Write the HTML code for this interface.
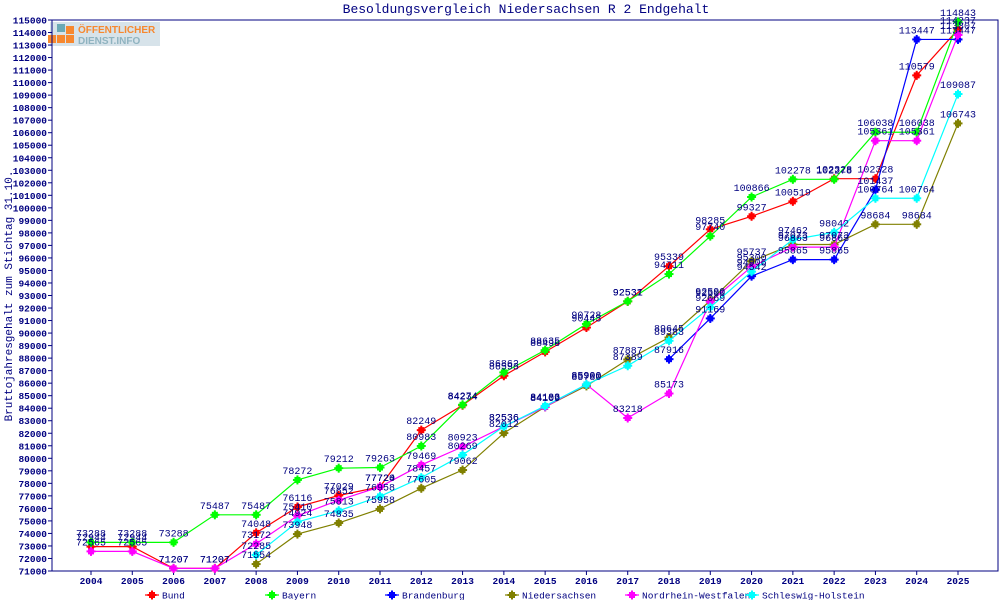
<!DOCTYPE html>
<html><head><meta charset="utf-8">
<style>
html,body{margin:0;padding:0;background:#fff;}
svg{display:block;font-family:"Liberation Mono","DejaVu Sans Mono",monospace;}
</style></head>
<body>
<svg id="chart" width="1000" height="600" viewBox="0 0 1000 600" xmlns="http://www.w3.org/2000/svg">
<text x="526" y="13" text-anchor="middle" font-size="13" fill="#000080">Besoldungsvergleich Niedersachsen R 2 Endgehalt</text>
<g>
<rect x="50" y="22" width="110" height="24" fill="#d7e3ea"/>
<rect x="57" y="24" width="8" height="8" fill="#6aa9b5"/>
<rect x="66" y="26" width="8" height="8" fill="#f7882f"/>
<rect x="48" y="35" width="8" height="8" fill="#f7882f"/>
<rect x="57" y="35" width="8" height="8" fill="#f7882f"/>
<rect x="66" y="35" width="8" height="8" fill="#f7882f"/>
<text x="78" y="33" font-family="Liberation Sans,sans-serif" font-weight="bold" font-size="10" fill="#f7882f">ÖFFENTLICHER</text>
<text x="78" y="44" font-family="Liberation Sans,sans-serif" font-weight="bold" font-size="10" fill="#8fb3c0">DIENST.INFO</text>
</g>
<text transform="translate(12,296) rotate(-90)" text-anchor="middle" font-size="11" fill="#000080">Bruttojahresgehalt zum Stichtag 31.10.</text>
<g id="axes"></g>
<g id="series"></g>
<g id="legend"></g>
</svg>
<script>
const years = [2004,2005,2006,2007,2008,2009,2010,2011,2012,2013,2014,2015,2016,2017,2018,2019,2020,2021,2022,2023,2024,2025];
const seriesNames = ["Bund","Bayern","Brandenburg","Niedersachsen","Nordrhein-Westfalen","Schleswig-Holstein"];
const seriesColors = ["#ff0000","#00ff00","#0000ff","#808000","#ff00ff","#00ffff"];
const bund = [72944,72944,71207,71207,74048,76116,77029,77724,82249,84234,86593,88496,90443,92531,95339,98285,99327,100519,102328,102328,110579,114237];
const bayern = [73288,73288,73288,75487,75487,78272,79212,79263,80983,84274,86862,88635,90728,92537,94711,97740,100866,102278,102278,106038,106038,114843];
const brandenburg = [null,null,null,null,null,null,null,null,null,null,null,null,null,null,87916,91169,94542,95865,95865,101437,113447,113447];
const niedersachsen = [null,null,null,null,71554,73948,74835,75958,77605,79062,82012,84109,85780,87887,89645,92590,95737,97073,97073,98684,98684,106743];
const nrw = [72565,72565,71207,71207,73172,75410,76652,77720,79469,80923,82536,84109,85900,83218,85173,92500,95300,96863,96863,105361,105361,113807];
const sh = [null,null,null,null,72285,74924,75813,76958,78457,80269,82536,84183,85900,87389,89383,92069,94906,97462,98042,100764,100764,109087];
const allSeries = [bund,bayern,brandenburg,niedersachsen,nrw,sh];
const yTicks = [];
for (let v = 71000; v <= 115000; v += 1000) yTicks.push(v);

const L = 52, R = 998, T = 20, B = 571;
const yMin = 71000, yMax = 115000;
function xScale(i){ return 91 + i * (958 - 91) / (years.length - 1); }
function yScale(v){ return B - (v - yMin) / (yMax - yMin) * (B - T); }
const NS = "http://www.w3.org/2000/svg";
function mk(tag, attrs, parent){ const e = document.createElementNS(NS, tag); for (const k in attrs) e.setAttribute(k, attrs[k]); parent.appendChild(e); return e; }

const axes = document.getElementById('axes');
const frame = mk('rect', {x:L, y:T, width:R-L, height:B-T, fill:'none', stroke:'#000080', 'stroke-width':1}, axes);


yTicks.forEach(v => {
  const y = yScale(v);
  const t = mk('line', {x1:L-4, x2:L, y1:y, y2:y, stroke:'#000080'}, axes);
  
  
  const lb = mk('text', {x:L-5, y:y+3.5, 'text-anchor':'end', 'font-size':9.5, 'font-weight':'bold', fill:'#000080'}, axes);
  
  
  lb.textContent = v;
});
years.forEach((yr, i) => {
  const x = xScale(i);
  const t = mk('line', {x1:x, x2:x, y1:B, y2:B+4, stroke:'#000080'}, axes);
  
  
  const lb = mk('text', {x:x, y:B+13, 'text-anchor':'middle', 'font-size':9.5, 'font-weight':'bold', fill:'#000080'}, axes);
  
  
  lb.textContent = yr;
});

function marker(x, y, color, parent){
  const g = mk('g', {}, parent);
  mk('rect', {x:x-3, y:y-3, width:6, height:6, fill:color}, g);
  mk('line', {x1:x-4.5, x2:x+4.5, y1:y, y2:y, stroke:color, 'stroke-width':2}, g);
  mk('line', {x1:x, x2:x, y1:y-4.5, y2:y+4.5, stroke:color, 'stroke-width':2}, g);
  return g;
}

const sg = document.getElementById('series');
allSeries.forEach((data, si) => {
  const g = mk('g', {}, sg);
  
  
  let pts = [];
  data.forEach((v, i) => { if (v != null) pts.push(xScale(i) + ',' + yScale(v)); });
  const pl = mk('polyline', {points:pts.join(' '), fill:'none', stroke:seriesColors[si], 'stroke-width':1.2}, g);
  
  
  data.forEach((v, i) => {
    if (v == null) return;
    const m = marker(xScale(i), yScale(v), seriesColors[si], g);
    
    
  });
});
const lg = mk('g', {}, sg);
allSeries.forEach((data, si) => {
  data.forEach((v, i) => {
    if (v == null) return;
    const t = mk('text', {x:xScale(i), y:yScale(v)-6, 'text-anchor':'middle', 'font-size':10, fill:'#000080'}, lg);
    
    
    t.textContent = v;
  });
});

const leg = document.getElementById('legend');
seriesNames.forEach((n, si) => {
  const x = 152 + si * 120, y = 595;
  const g = mk('g', {}, leg);
  
  
  mk('line', {x1:x-7, x2:x+7, y1:y, y2:y, stroke:seriesColors[si], 'stroke-width':1.2}, g);
  marker(x, y, seriesColors[si], g);
  const t = mk('text', {x:x+10, y:y+3.5, 'font-size':9.5, fill:'#000080'}, g);
  t.textContent = n;
});
</script>
</body></html>
